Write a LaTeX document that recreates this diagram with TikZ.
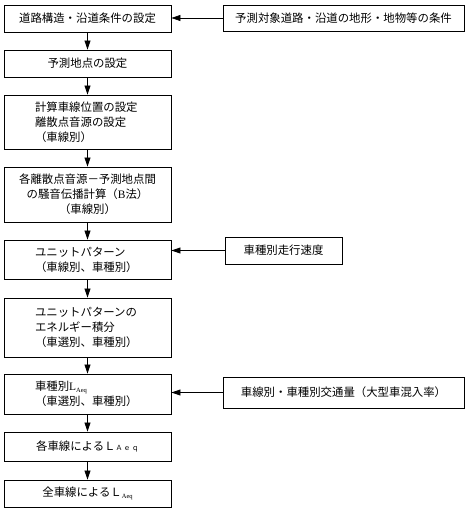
\documentclass[tikz,border=0pt]{standalone}
\usepackage{fontspec}
\setmainfont{Noto Sans CJK JP}
\newfontfamily\lat{Liberation Serif}
\usetikzlibrary{arrows.meta}
\newcommand\subaeq{\raisebox{-0.35ex}{\fontsize{6.5}{6.5}\selectfont\lat Aeq}}
\newcommand\fsz{\fontsize{11.4}{15}\selectfont}
\begin{document}
\begin{tikzpicture}[x=1pt,y=-1pt,
  box/.style={draw, line width=0.9pt, inner ysep=0pt, font=\fsz},
  cbox/.style={box, align=center, inner xsep=0pt, text width=167pt},
  lbox/.style={box, align=left, inner xsep=31pt, text width=105pt},
  rbox/.style={box, align=center, inner xsep=0pt, text width=#1},
  arr/.style={-{Triangle[length=9pt,width=6pt]}, line width=0.7pt}]
\useasboundingbox (0,0) rectangle (476,511);
\node[cbox, minimum height=27pt] (b1) at (87.5,18.5) {道路構造・沿道条件の設定};
\node[cbox, minimum height=27pt] (b2) at (87.5,63.5) {予測地点の設定};
\node[lbox, minimum height=54pt] (b3) at (87.5,122) {計算車線位置の設定\\離散点音源の設定\\（車線別）};
\node[cbox, minimum height=55pt] (b4) at (87.5,194.5) {各離散点音源－予測地点間\\の騒音伝播計算（{\lat B}法）\\（車線別）};
\node[lbox, minimum height=39pt] (b5) at (87.5,259.5) {ユニットパターン\\（車線別、車種別）};
\node[lbox, minimum height=59pt] (b6) at (87.5,327.5) {ユニットパターンの\\エネルギー積分\\（車選別、車種別）};
\node[lbox, minimum height=40pt] (b7) at (87.5,394) {車種別{\lat L}\subaeq\\（車選別、車種別）};
\node[cbox, minimum height=29pt] (b8) at (87.5,446.5) {各車線によるＬ{\fontsize{7}{7}\selectfont Ａ\,ｅ\,ｑ}};
\node[cbox, minimum height=27pt] (b9) at (87.5,493.5) {全車線によるＬ\subaeq};
\node[rbox=241pt, minimum height=26pt] (r1) at (343.5,18) {予測対象道路・沿道の地形・地物等の条件};
\node[rbox=117pt, minimum height=27pt] (r2) at (283.5,250.5) {車種別走行速度};
\node[rbox=241pt, minimum height=31pt] (r3) at (343.5,392.5) {車線別・車種別交通量（大型車混入率）};
\draw[arr] (b1.south) -- (b2.north);
\draw[arr] (b2.south) -- (b3.north);
\draw[arr] (b3.south) -- (b4.north);
\draw[arr] (b4.south) -- (b5.north);
\draw[arr] (b5.south) -- (b6.north);
\draw[arr] (b6.south) -- (b7.north);
\draw[arr] (b7.south) -- (b8.north);
\draw[arr] (b8.south) -- (b9.north);
\draw[arr] (r1.west) -- (r1.west -| b1.east);
\draw[arr] (r2.west) -- (r2.west -| b5.east);
\draw[arr] (r3.west) -- (r3.west -| b7.east);
\end{tikzpicture}
\end{document}
